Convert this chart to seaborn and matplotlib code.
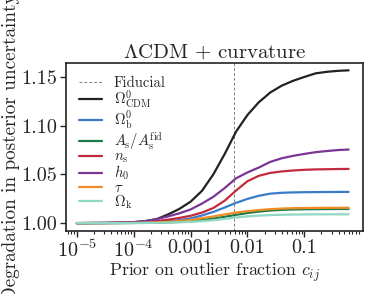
import numpy as np
import pandas as pd
import seaborn as sns
import matplotlib
matplotlib.use("Agg")
import matplotlib.pyplot as plt
from matplotlib.ticker import FixedLocator, FixedFormatter, LogLocator, NullFormatter

# prior on outlier fraction (x) and degradation per parameter
prior = [1e-5, 3.16e-5, 6.31e-5, 1e-4, 1.58e-4, 2.51e-4, 3.98e-4, 6.31e-4,
         1e-3, 1.58e-3, 2.51e-3, 3.98e-3, 6.31e-3, 1e-2, 1.58e-2, 2.51e-2,
         3.98e-2, 6.31e-2, 0.1, 0.158, 0.251, 0.398, 0.6]
omega_cdm = [1.000, 1.0002, 1.0005, 1.001, 1.002, 1.004, 1.0088, 1.0145,
             1.022, 1.033, 1.050, 1.071, 1.094, 1.111, 1.124, 1.134,
             1.141, 1.146, 1.150, 1.1537, 1.1553, 1.1563, 1.1568]
omega_b = [1.000, 1.000, 1.0002, 1.0004, 1.0007, 1.0012, 1.002, 1.003,
           1.0048, 1.0078, 1.0115, 1.016, 1.0208, 1.0248, 1.028, 1.0302,
           1.0311, 1.0315, 1.0317, 1.0318, 1.0319, 1.032, 1.032]
a_s = [1.000, 1.000, 1.000, 1.0001, 1.0002, 1.0004, 1.0007, 1.0012,
       1.002, 1.0032, 1.0047, 1.0065, 1.0085, 1.0103, 1.0118, 1.0129,
       1.0136, 1.014, 1.0142, 1.0143, 1.0144, 1.0145, 1.0145]
n_s = [1.000, 1.0001, 1.0003, 1.0006, 1.001, 1.002, 1.0035, 1.0053,
       1.0075, 1.0108, 1.0155, 1.023, 1.0335, 1.043, 1.0485, 1.0515,
       1.053, 1.054, 1.0547, 1.0551, 1.0553, 1.0555, 1.0556]
h_0 = [1.000, 1.0002, 1.0005, 1.001, 1.002, 1.004, 1.0068, 1.010,
       1.014, 1.020, 1.027, 1.036, 1.046, 1.052, 1.057, 1.0628,
       1.0665, 1.069, 1.071, 1.0728, 1.074, 1.075, 1.0755]
tau = [1.000, 1.000, 1.0001, 1.0002, 1.0004, 1.0007, 1.0012, 1.002,
       1.0032, 1.005, 1.0068, 1.0089, 1.0108, 1.0122, 1.0134, 1.0143,
       1.0149, 1.0153, 1.0155, 1.0156, 1.0157, 1.0157, 1.0157]
omega_k = [1.000, 1.000, 1.000, 1.0001, 1.0002, 1.0003, 1.0005, 1.0008,
           1.0013, 1.002, 1.003, 1.0043, 1.0058, 1.0069, 1.0077, 1.0082,
           1.0086, 1.0088, 1.0089, 1.009, 1.009, 1.009, 1.009]
fiducial = 0.0059

labels = [r'$\Omega^0_{\rm CDM}$', r'$\Omega^0_{\rm b}$', r'$A_{\rm s}/A_{\rm s}^{\rm fid}$',
          r'$n_{\rm s}$', r'$h_0$', r'$\tau$', r'$\Omega_{\rm k}$']
series = [omega_cdm, omega_b, a_s, n_s, h_0, tau, omega_k]
colors = ['#222222', '#3a7bc8', '#1f7a4a', '#c42a3e', '#7a3595', '#ef8c26', '#8fd8c4']

rows = []
for lab, vals in zip(labels, series):
    for xv, yv in zip(prior, vals):
        rows.append({'prior': xv, 'degradation': yv, 'param': lab})
df = pd.DataFrame(rows)

sns.set_style('ticks')
plt.rcParams['font.family'] = ['serif']
plt.rcParams['font.serif'] = ['cmr10', 'DejaVu Serif']
plt.rcParams['mathtext.fontset'] = 'cm'
plt.rcParams['axes.formatter.use_mathtext'] = True
plt.rcParams['axes.unicode_minus'] = False

fig = plt.figure(figsize=(3.74, 2.94), dpi=100)
ax = fig.add_axes([0.176, 0.214, 0.795, 0.572])

ax.axvline(fiducial, color='grey', ls=(0, (3, 2)), lw=0.7, label='Fiducial')
sns.lineplot(data=df, x='prior', y='degradation', hue='param', hue_order=labels,
             palette=colors, lw=1.6, ax=ax)

ax.set_xscale('log')
ax.set_xlim(6.4e-6, 1.08)
ax.set_ylim(0.9918, 1.1644)
ax.set_yticks([1.00, 1.05, 1.10, 1.15])
ax.set_yticklabels(['1.00', '1.05', '1.10', '1.15'])
ax.xaxis.set_major_locator(FixedLocator([1e-5, 1e-4, 1e-3, 1e-2, 1e-1]))
ax.xaxis.set_major_formatter(FixedFormatter([r'$10^{-5}$', r'$10^{-4}$', '0.001', '0.01', '0.1']))
ax.xaxis.set_minor_locator(LogLocator(base=10, subs=np.arange(2, 10), numticks=20))
ax.xaxis.set_minor_formatter(NullFormatter())
ax.tick_params(labelsize=14.5, width=1.0, length=4, pad=2)
ax.tick_params(which='minor', length=2.5, width=0.8)
for sp in ax.spines.values():
    sp.set_linewidth(1.2)
    sp.set_color('#222222')

ax.set_title(r'$\Lambda$CDM + curvature', fontsize=15, pad=4)
ax.set_xlabel(r'Prior on outlier fraction $c_{ij}$', fontsize=12.8, labelpad=0)
ax.set_ylabel('Degradation in posterior uncertainty', fontsize=13.8, labelpad=1)

ax.legend(loc='upper left', frameon=False, fontsize=10.5, handlelength=1.6,
          labelspacing=-0.1, borderaxespad=0.5, handletextpad=0.8)

fig.savefig('out.png', dpi=100)
